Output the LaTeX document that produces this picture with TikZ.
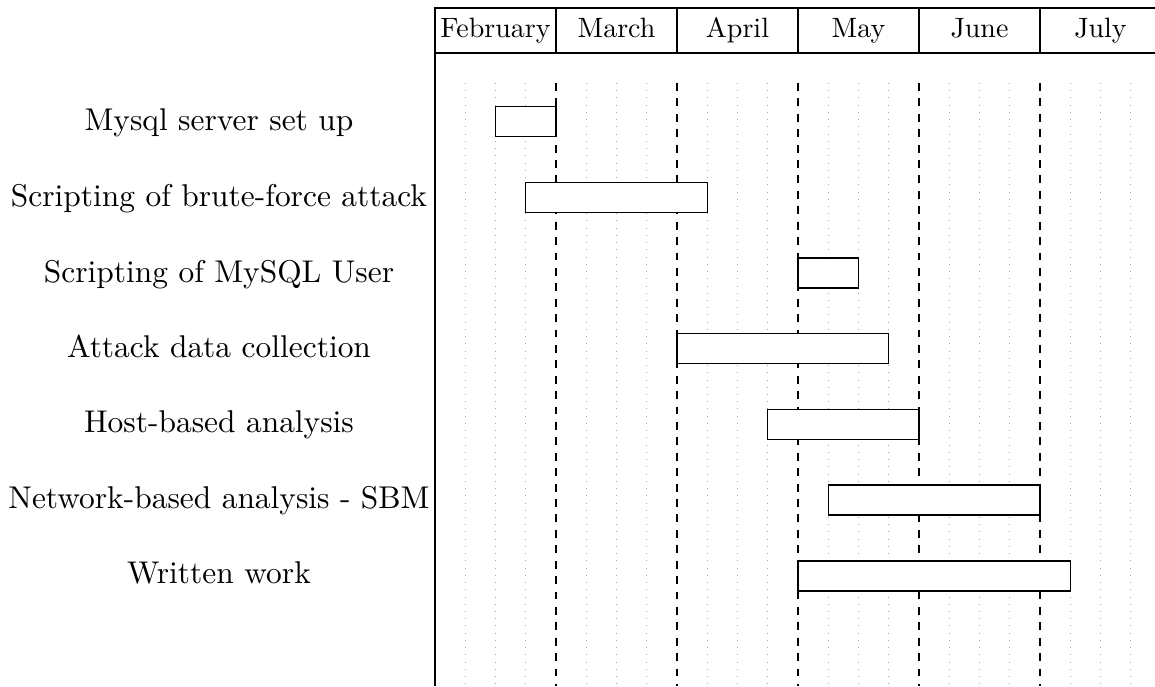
\documentclass[tikz,border=0pt]{standalone}
\begin{document}
\begin{tikzpicture}[x=0.318pt,y=-0.318pt,
  lbl/.style={anchor=base,inner sep=0pt,font=\fontsize{10}{12}\selectfont},
  month/.style={anchor=base,inner sep=0pt,font=\fontsize{10}{12}\selectfont},
  barbox/.style={draw=black,line width=0.4pt,fill=white},
  weekline/.style={gray!70,dotted,line width=0.3pt},
  monthline/.style={black,dash pattern=on 2.5pt off 2.4pt,line width=0.4pt},
  frame/.style={black,line width=0.4pt}]
\useasboundingbox (0,0) rectangle (1155,686);
% grid
\foreach \k in {1,...,23}{
  \pgfmathsetmacro{\xx}{435+30.25*\k}
  \pgfmathtruncatemacro{\m}{mod(\k,4)}
  \ifnum\m=0
    \draw[monthline] (\xx,83) -- (\xx,686);
  \else
    \draw[weekline] (\xx,83) -- (\xx,686);
  \fi
}
% header
\draw[frame] (435,686) -- (435,8) -- (1155,8);
\draw[frame] (435,53) -- (1155,53);
\foreach \k in {1,...,5}{
  \draw[frame] (435+121*\k,8) -- (435+121*\k,53);
}
\node[month] (m1) at (495.5,37) {\scalebox{0.89}{February}};
\node[month] (m2) at (616.5,37) {\scalebox{0.89}{March}};
\node[month] (m3) at (737.5,37) {\scalebox{0.89}{April}};
\node[month] (m4) at (858.5,37) {\scalebox{0.89}{May}};
\node[month] (m5) at (979.5,37) {\scalebox{0.89}{June}};
\node[month] (m6) at (1100.5,37) {\scalebox{0.89}{July}};
% labels
\node[lbl] (t1) at (219,130) {Mysql server set up};
\node[lbl] (t2) at (219,206) {Scripting of brute-force attack};
\node[lbl] (t3) at (219,282) {Scripting of MySQL User};
\node[lbl] (t4) at (219,357) {Attack data collection};
\node[lbl] (t5) at (219,432.5) {Host-based analysis};
\node[lbl] (t6) at (219,508) {Network-based analysis - SBM};
\node[lbl] (t7) at (219,583.5) {Written work};
% bars
\draw[barbox] (495.5,106.5) rectangle (556,136.5);
\draw[barbox] (525.75,182.5) rectangle (707.25,212.5);
\draw[barbox] (798,258) rectangle (858.5,288);
\draw[barbox] (677,333.5) rectangle (888.75,363.5);
\draw[barbox] (767.75,409.5) rectangle (919,439.5);
\draw[barbox] (828.25,485) rectangle (1040,515);
\draw[barbox] (798,561) rectangle (1070.25,591);
\end{tikzpicture}
\end{document}
